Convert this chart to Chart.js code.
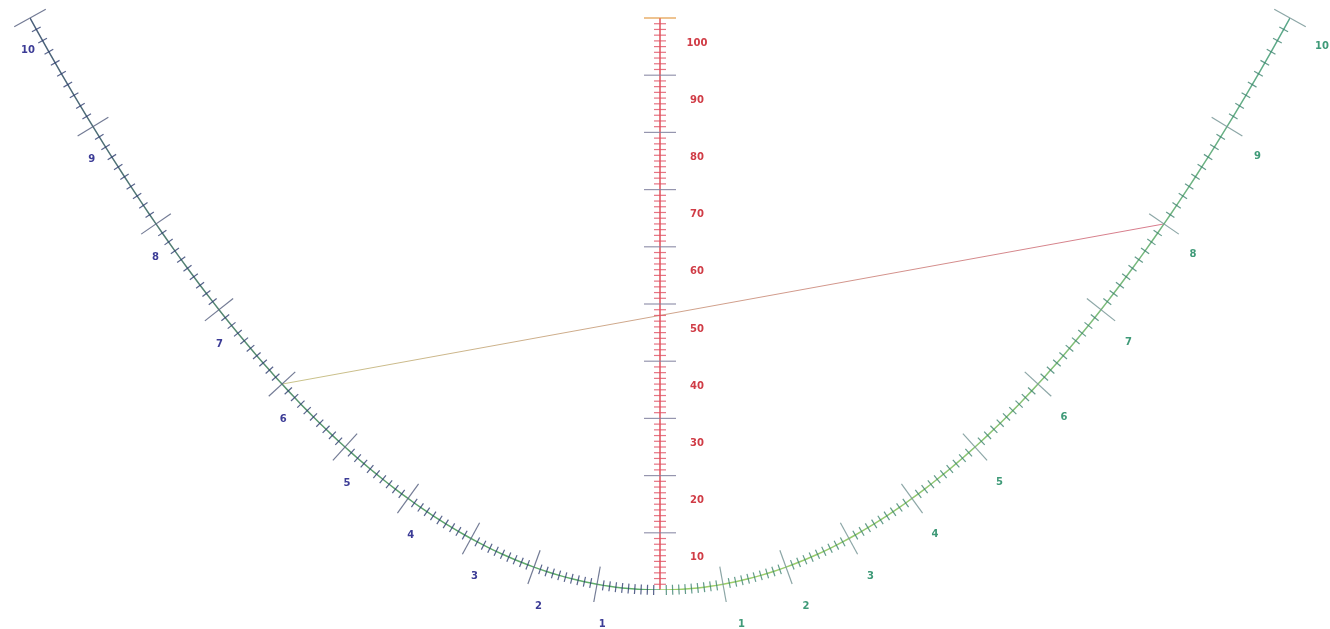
<!DOCTYPE html>
<html>
<head>
<meta charset="utf-8">
<script src="https://cdn.jsdelivr.net/npm/chart.js@4/dist/chart.umd.min.js"></script>
<style>
    html, body { margin: 0; background: #fff; }
    #wrap { width: 1330px; height: 629px; }
</style>
</head>
<body>
<div id="wrap"><canvas id="nomo"></canvas></div>
<script>

    // scale values of the nomogram
    const leftLabels = [1, 2, 3, 4, 5, 6, 7, 8, 9, 10]
    const rightLabels = [1, 2, 3, 4, 5, 6, 7, 8, 9, 10]
    const middleLabels = [10, 20, 30, 40, 50, 60, 70, 80, 90, 100]
    const curveMinorStep = 0.1
    const middleMinorStep = 1
    const middleMax = 100

    // the drawn isopleth: left 6, right 8 -> middle 48
    const isoLeft = 6
    const isoRight = 8

    const grads = (max, step) => {
        const out = []
        const n = Math.round(max / step)
        for (let i = 0; i <= n; i++) out.push(+(i * step).toFixed(4))
        return out
    }

    const curveGrads = grads(leftLabels[leftLabels.length - 1], curveMinorStep)
    const middleGrads = grads(middleMax, middleMinorStep)

    const vGradient = (chart, bottomColor, topColor) => {
        const a = chart.chartArea
        if (!a) return bottomColor
        const g = chart.ctx.createLinearGradient(0, a.bottom, 0, a.top)
        g.addColorStop(0, bottomColor)
        g.addColorStop(1, topColor)
        return g
    }

    const hGradient = (chart, leftColor, rightColor) => {
        const a = chart.chartArea
        if (!a) return leftColor
        const g = chart.ctx.createLinearGradient(a.left + 250, 0, a.left + 1140, 0)
        g.addColorStop(0, leftColor)
        g.addColorStop(1, rightColor)
        return g
    }

    // ticks + labels along the parabola and the middle scale
    const scalePlugin = {
        id: 'nomoScales',
        afterDatasetsDraw(chart) {
            const ctx = chart.ctx
            const xs = chart.scales.x
            const ys = chart.scales.y

            const pt = (side, u) => [xs.getPixelForValue(side * u), ys.getPixelForValue(u * u)]

            const curveTick = (side, u, len, color) => {
                const [px, py] = pt(side, u)
                const [ax, ay] = pt(side, u - 0.01)
                const [bx, by] = pt(side, u + 0.01)
                let tx = bx - ax, ty = by - ay
                const d = Math.hypot(tx, ty) || 1
                tx /= d; ty /= d
                const nx = -ty, ny = tx
                ctx.strokeStyle = color
                ctx.beginPath()
                ctx.moveTo(px - nx * len, py - ny * len)
                ctx.lineTo(px + nx * len, py + ny * len)
                ctx.stroke()
            }

            ctx.save()
            ctx.lineWidth = 1.2

            curveGrads.forEach(u => {
                if (u === 0) return
                const major = Math.abs(u - Math.round(u)) < 1e-6
                curveTick(-1, u, major ? 18 : 5, major ? 'rgba(90,100,130,0.85)' : 'rgba(45,60,110,0.8)')
                curveTick(1, u, major ? 18 : 5, major ? 'rgba(120,150,150,0.85)' : 'rgba(60,130,110,0.8)')
            })

            // middle scale ticks
            const mx = xs.getPixelForValue(0)
            middleGrads.forEach(v => {
                if (v === 0) return
                const y = ys.getPixelForValue(v)
                const major = v % 10 === 0
                let len = major ? 16 : 6
                ctx.strokeStyle = major ? (v === 100 ? 'rgba(225,150,60,0.95)' : 'rgba(130,130,160,0.85)') : 'rgba(225,80,100,0.8)'
                ctx.beginPath()
                ctx.moveTo(mx - len, y)
                ctx.lineTo(mx + len, y)
                ctx.stroke()
            })

            ctx.font = 'bold 10px "DejaVu Sans"'
            ctx.textAlign = 'center'
            ctx.textBaseline = 'middle'

            ctx.fillStyle = '#3c3c96'
            leftLabels.forEach(u => {
                const [px, py] = pt(-1, u)
                ctx.fillText(String(u), px + 2 + (10 - u) * 0.8 - 4, py + 32 + (10 - u) * 0.9)
            })

            ctx.fillStyle = '#3f9a78'
            rightLabels.forEach(u => {
                const [px, py] = pt(1, u)
                ctx.fillText(String(u), px + 32 - (10 - u) * 1.5, py + 28 + (10 - u) * 1.4)
            })

            ctx.fillStyle = '#d03c46'
            middleLabels.forEach(v => {
                ctx.fillText(String(v), mx + 37, ys.getPixelForValue(v) + 25)
            })

            ctx.restore()
        }
    }

    const renderNomogram = () => {

        const canvas = document.querySelector('#nomo')
        const ctx = canvas.getContext('2d')

        new Chart(ctx, {
            type: 'scatter',
            data: {
                datasets: [
                    {
                        label: 'left',
                        data: curveGrads.map(u => ({ x: -u, y: u * u })),
                        showLine: true,
                        borderWidth: 1.5,
                        borderColor: c => vGradient(c.chart, '#5fae6a', '#4a5f7a'),
                        pointRadius: 0
                    },
                    {
                        label: 'right',
                        data: curveGrads.map(u => ({ x: u, y: u * u })),
                        showLine: true,
                        borderWidth: 1.5,
                        borderColor: c => vGradient(c.chart, '#9ccf6a', '#5aa88a'),
                        pointRadius: 0
                    },
                    {
                        label: 'middle',
                        data: [{ x: 0, y: 0 }, { x: 0, y: middleMax }],
                        showLine: true,
                        borderWidth: 1.5,
                        borderColor: '#e0505a',
                        pointRadius: 0
                    },
                    {
                        label: 'isopleth',
                        data: [{ x: -isoLeft, y: isoLeft * isoLeft }, { x: isoRight, y: isoRight * isoRight }],
                        showLine: true,
                        borderWidth: 1,
                        borderColor: c => hGradient(c.chart, '#c9c48a', '#d87a8c'),
                        pointRadius: 0
                    }
                ]
            },
            options: {
                responsive: true,
                maintainAspectRatio: false,
                animation: false,
                layout: { padding: { left: 30, right: 40, top: 18, bottom: 39 } },
                plugins: { legend: { display: false }, tooltip: { enabled: false } },
                scales: {
                    x: { type: 'linear', min: -10, max: 10, display: false },
                    y: { type: 'linear', min: 0, max: 100, display: false }
                }
            },
            plugins: [scalePlugin]
        })
    }

renderNomogram()

</script>
</body>
</html>
